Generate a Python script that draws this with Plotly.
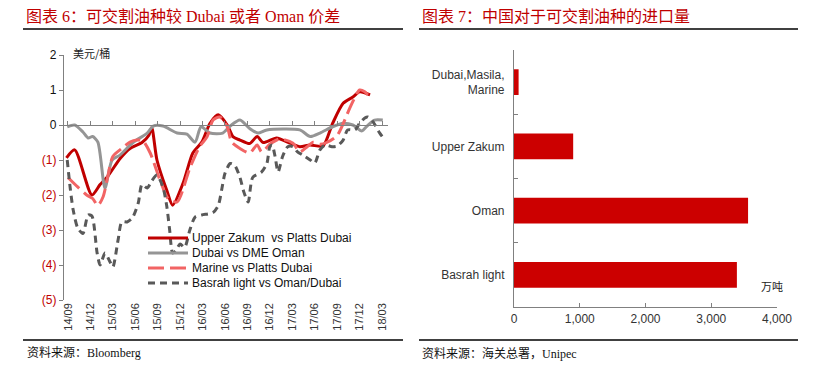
import plotly.graph_objects as go

W, H = 822, 377
OFF = 8  # page body margin of the host browser page

# ---------------- Left chart data (months since 2014-09) ----------------
x_tick_months = [0, 3, 6, 9, 12, 15, 18, 21, 24, 27, 30, 33, 36, 39, 42]
x_tick_labels = ["14/09", "14/12", "15/03", "15/06", "15/09", "15/12", "16/03", "16/06",
                 "16/09", "16/12", "17/03", "17/06", "17/09", "17/12", "18/03"]
y_tick_vals = [2, 1, 0, -1, -2, -3, -4, -5]
y_tick_labels = ["2", "1", "0", "(1)", "(2)", "(3)", "(4)", "(5)"]

series_names = ["Upper Zakum  vs Platts Dubai", "Dubai vs DME Oman",
                "Marine vs Platts Dubai", "Basrah light vs Oman/Dubai"]

uz_m = [-0.2, 0.9, 3.2, 4.3, 5.2, 7.0, 8.3, 9.9, 10.8, 11.2, 11.9, 13.2, 14.0, 15.4, 16.7,
        17.9, 19.0, 20.1, 21.3, 22.1, 23.0, 24.3, 25.3, 26.1, 27.9, 29.7, 31.0, 32.4, 34.1,
        35.4, 36.8, 38.1, 39.0, 40.4]
uz_v = [-0.94, -0.71, -2.0, -1.7, -1.5, -0.95, -0.67, -0.5, -0.3, -0.07, -1.0, -1.86, -2.29,
        -1.66, -0.8, -0.49, 0.05, 0.29, 0.0, -0.34, -0.43, -0.53, -0.33, -0.5, -0.37, -0.52,
        -0.62, -0.57, -0.6, 0.05, 0.62, 0.8, 0.95, 0.86]

dubai_m = [-0.1, 0.9, 2.0, 2.7, 3.3, 4.0, 4.95, 5.9, 6.95, 8.7, 10.6, 11.4, 12.7, 14.6, 15.9,
           17.0, 17.8, 19.0, 20.7, 21.7, 23.0, 24.3, 25.4, 26.6, 31.0, 32.4, 33.7, 35.4, 36.8,
           38.1, 39.3, 40.0, 41.0, 42.1]
dubai_v = [-0.05, 0.0, -0.2, -0.37, -0.33, -0.49, -1.8, -1.0, -0.86, -0.5, -0.23, -0.03, -0.03,
           -0.23, -0.26, -0.49, -0.05, -0.23, -0.23, -0.03, 0.14, -0.1, -0.23, -0.14, -0.14,
           -0.33, -0.23, -0.05, 0.05, 0.0, -0.17, -0.03, 0.14, 0.14]

marine_m = [0.0, 1.3, 2.5, 3.3, 4.0, 4.7, 5.3, 6.0, 7.2, 8.3, 9.2, 10.0, 11.0, 12.3, 13.4,
            14.6, 16.3, 17.6, 18.6, 19.4, 20.3, 21.3, 21.9, 23.0, 24.3, 25.3, 25.9, 27.0, 28.3,
            30.1, 31.0, 32.0, 32.8, 33.7, 34.6, 36.0, 37.7, 38.4, 39.0, 39.7, 40.1]
marine_v = [-1.5, -1.77, -2.0, -2.1, -2.3, -2.05, -1.5, -0.9, -0.67, -0.49, -0.43, -0.45, -0.8,
            -1.57, -2.1, -2.2, -1.23, -0.62, -0.34, 0.14, 0.23, -0.05, -0.49, -0.67, -0.8, -0.57,
            -0.77, -0.55, -0.4, -0.52, -0.77, -0.62, -0.49, -0.55, -0.5, -0.3, 0.49, 0.8, 1.0,
            0.95, 0.86]

basrah_m = [-0.1, 0.3, 0.7, 1.3, 2.0, 2.7, 3.2, 3.9, 4.3, 4.95, 5.6, 6.0, 6.7, 7.2, 7.9,
            8.6, 9.4, 9.9, 10.6, 11.2, 11.9, 12.7, 13.2, 13.6, 14.0, 14.4, 15.0, 15.6, 16.3,
            17.0, 17.9, 19.4, 20.1, 20.6, 21.0, 21.7, 22.3, 23.0, 23.5, 24.1, 24.7, 25.9, 26.6,
            27.0, 27.3, 27.7, 28.1, 28.7, 29.4, 30.1, 30.7, 31.4, 32.4, 33.0, 33.7, 34.4, 35.3,
            36.0, 36.8, 37.4, 38.4, 39.0, 39.7, 40.1, 40.8, 41.7, 42.4]
basrah_v = [-1.0, -1.8, -2.43, -2.94, -3.1, -2.57, -2.6, -3.66, -4.0, -3.66, -3.9, -4.06, -3.29,
            -2.77, -2.77, -2.66, -2.23, -1.7, -1.8, -1.6, -1.43, -1.77, -2.3, -3.0, -3.66, -3.6,
            -3.4, -3.5, -3.0, -2.63, -2.57, -2.5, -2.3, -1.8, -1.38, -1.1, -1.15, -1.5, -1.9,
            -2.2, -1.5, -1.34, -1.1, -0.62, -0.57, -0.9, -1.34, -0.9, -0.62, -0.62, -0.77, -0.86,
            -1.0, -1.09, -0.71, -0.57, -0.62, -0.6, -0.43, -0.14, -0.14, 0.05, 0.2, 0.23, 0.09,
            -0.23, -0.43]

# ---------------- Right chart data ----------------
crude_names = ["Dubai,Masila,<br>Marine", "Upper Zakum", "Oman", "Basrah light"]
import_volume = [70, 900, 3560, 3390]
x2_ticks = [0, 1000, 2000, 3000, 4000]


def PX(px):
    return (px - OFF) / W


def PY(py):
    return 1 - (py - OFF) / H


# ---------------- Layout geometry ----------------
L_x = [PX(64), PX(388)]
L_y = [PY(300), PY(55)]
R_x = [PX(514), PX(777)]
R_y = [PY(307), PY(50)]
zero_pos = L_y[0] + (0 - (-5)) / 7 * (L_y[1] - L_y[0])

RED = "#C00000"
styles = [
    dict(color="#C00000", width=3),
    dict(color="#959595", width=3),
    dict(color="#F26464", width=3, dash="16px,6px"),
    dict(color="#595959", width=3, dash="7px,5px"),
]
data_sets = [(uz_m, uz_v), (dubai_m, dubai_v), (marine_m, marine_v), (basrah_m, basrah_v)]

fig = go.Figure()
for (xs, ys), nm, st in zip(data_sets, series_names, styles):
    fig.add_trace(go.Scatter(x=xs, y=ys, mode="lines", name=nm,
                             line=dict(shape="spline", smoothing=0.7, **st),
                             xaxis="x", yaxis="y", showlegend=False))
# helper trace so the zero-line axis is rendered
fig.add_trace(go.Scatter(x=[0], y=[0], mode="markers", marker=dict(opacity=0), showlegend=False,
                         hoverinfo="skip", xaxis="x3", yaxis="y"))

fig.add_trace(go.Bar(y=crude_names, x=import_volume, orientation="h", width=0.4,
                     marker=dict(color="#CC0000", line=dict(width=0)), showlegend=False,
                     xaxis="x2", yaxis="y2"))

ytext = [t if not t.startswith("(") else f"<span style='color:{RED}'>{t}</span>" for t in y_tick_labels]

fig.update_layout(
    width=W, height=H, margin=dict(l=0, r=0, t=0, b=0, autoexpand=False),
    paper_bgcolor="white", plot_bgcolor="white", showlegend=False,
    font=dict(family="Arial, Liberation Sans, sans-serif", size=12, color="#222"),
    xaxis=dict(domain=L_x, anchor="y", range=[-0.53, 42.8], showline=False, showgrid=False,
               zeroline=False, ticks="", tickmode="array", tickvals=x_tick_months,
               ticktext=x_tick_labels, tickangle=-90, tickfont=dict(size=11, color="#333"),
               automargin=False),
    xaxis3=dict(domain=L_x, overlaying="x", anchor="free", position=zero_pos,
                range=[-0.53, 42.8], showline=True, linecolor="#808080", linewidth=1.2,
                ticks="inside", ticklen=4, tickcolor="#808080", tickmode="array",
                tickvals=x_tick_months, showticklabels=False, showgrid=False, zeroline=False,
                automargin=False),
    yaxis=dict(domain=L_y, anchor="x", range=[-5, 2], showline=True, linecolor="#808080",
               linewidth=1.2, ticks="outside", ticklen=4, tickcolor="#808080", showgrid=False,
               zeroline=False, tickmode="array", tickvals=y_tick_vals, ticktext=ytext,
               tickfont=dict(size=12, color="#111"), automargin=False),
    xaxis2=dict(domain=R_x, anchor="y2", range=[0, 4000], showline=True, linecolor="#808080",
                linewidth=1.2, ticks="inside", ticklen=4, tickcolor="#808080", tickmode="array",
                tickvals=x2_ticks, tickformat=",", showgrid=False, zeroline=False,
                tickfont=dict(size=12, color="#333"), automargin=False),
    yaxis2=dict(domain=R_y, anchor="x2", showline=True, linecolor="#808080", linewidth=1.2,
                ticks="inside", ticklen=4, tickcolor="#808080", tickson="boundaries",
                autorange="reversed", showgrid=False, zeroline=False,
                tickfont=dict(size=12, color="#333"), ticklabelstandoff=6, automargin=False),
    bargap=0.6,
)

title_font = dict(family="Liberation Serif, Noto Sans CJK SC, serif", size=16, color=RED)
src_font = dict(family="Liberation Serif, Noto Sans CJK SC, serif", size=12, color="#111")
ann = [
    dict(text="图表 6：可交割油种较 Dubai 或者 Oman 价差", x=PX(24), y=PY(17),
         xanchor="left", yanchor="middle", font=title_font),
    dict(text="图表 7：中国对于可交割油种的进口量", x=PX(420), y=PY(17),
         xanchor="left", yanchor="middle", font=title_font),
    dict(text="资料来源：Bloomberg", x=PX(25), y=PY(353), xanchor="left", yanchor="middle",
         font=src_font),
    dict(text="资料来源：海关总署，Unipec", x=PX(420), y=PY(353), xanchor="left",
         yanchor="middle", font=src_font),
    dict(text="美元/桶", x=PX(71), y=PY(53), xanchor="left", yanchor="middle",
         font=dict(family="Noto Sans CJK SC", size=11, color="#222")),
    dict(text="万吨", x=PX(759), y=PY(286), xanchor="left", yanchor="middle",
         font=dict(family="Noto Sans CJK SC", size=11, color="#222")),
]

shapes = [
    dict(type="line", xref="paper", yref="paper", x0=PX(23), x1=PX(403), y0=PY(29), y1=PY(29),
         line=dict(color="black", width=1.5)),
    dict(type="line", xref="paper", yref="paper", x0=PX(419), x1=PX(798), y0=PY(29), y1=PY(29),
         line=dict(color="black", width=1.5)),
    dict(type="line", xref="paper", yref="paper", x0=PX(23), x1=PX(403), y0=PY(340), y1=PY(340),
         line=dict(color="black", width=1.5)),
    dict(type="line", xref="paper", yref="paper", x0=PX(419), x1=PX(798), y0=PY(340), y1=PY(340),
         line=dict(color="black", width=1.5)),
]

# legend (drawn as line samples + labels)
leg_x0, leg_x1, leg_top, leg_step = 148, 188, 238, 15
for i, (nm, st) in enumerate(zip(series_names, styles)):
    yy = PY(leg_top + i * leg_step)
    shapes.append(dict(type="line", xref="paper", yref="paper", x0=PX(leg_x0), x1=PX(leg_x1),
                       y0=yy, y1=yy, line=st))
    ann.append(dict(text=nm, x=PX(leg_x1 + 2), y=yy, xanchor="left", yanchor="middle",
                    font=dict(family="Arial, Liberation Sans", size=12, color="#111")))

for a in ann:
    a.update(xref="paper", yref="paper", showarrow=False)
fig.update_layout(annotations=ann, shapes=shapes)

fig.write_html("out.html")
